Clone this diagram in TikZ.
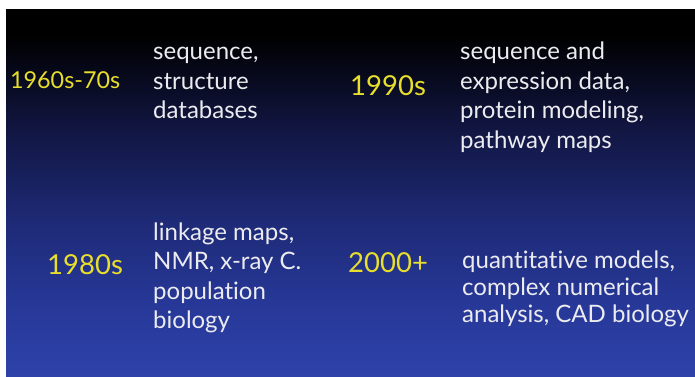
\documentclass[tikz,border=0pt]{standalone}
\usepackage{fontspec}
\setmainfont[Ligatures=NoCommon]{Lato}
\definecolor{bgA}{RGB}{0,0,0}
\definecolor{bgB}{RGB}{16,20,60}
\definecolor{bgC}{RGB}{30,42,118}
\definecolor{bgD}{RGB}{38,55,150}
\definecolor{bgE}{RGB}{46,66,170}
\definecolor{yeartxt}{RGB}{232,222,44}
\definecolor{bodytxt}{RGB}{236,236,240}
\tikzset{
  year/.style={text=yeartxt, inner sep=0pt, anchor=west, font=\fontsize{27.5}{30}\selectfont},
  body/.style={text=bodytxt, inner sep=0pt, anchor=west, align=left, font=\fontsize{24}{29.5}\selectfont},
}
\begin{document}
\begin{tikzpicture}[x=1pt,y=-1pt]
\useasboundingbox (0,0) rectangle (695,376);
\fill[white] (0,0) rectangle (695,376);
\fill[bgA] (6,9) rectangle (695,36);
\shade[top color=bgA, bottom color=bgB] (6,35) rectangle (695,121);
\shade[top color=bgB, bottom color=bgC] (6,120) rectangle (695,221);
\shade[top color=bgC, bottom color=bgD] (6,220) rectangle (695,301);
\shade[top color=bgD, bottom color=bgE] (6,300) rectangle (695,376);

\node[year, font=\fontsize{23.3}{24}\selectfont] (y60) at (10,80) {1960s-70s};
\node[body] (t60) at (153,83) {sequence,\\structure\\databases};
\node[year] (y90) at (350,86) {1990s};
\node[body] (t90) at (460,97) {sequence and\\expression data,\\protein modeling,\\pathway maps};
\node[year] (y80) at (47,265) {1980s};
\node[body] (t80) at (153,278) {linkage maps,\\NMR, x-ray C.\\population\\biology};
\node[year] (y00) at (348,263) {2000+};
\node[body, font=\fontsize{24}{27}\selectfont] (t00) at (462,289) {quantitative models,\\complex numerical\\analysis, CAD biology};
\end{tikzpicture}
\end{document}
